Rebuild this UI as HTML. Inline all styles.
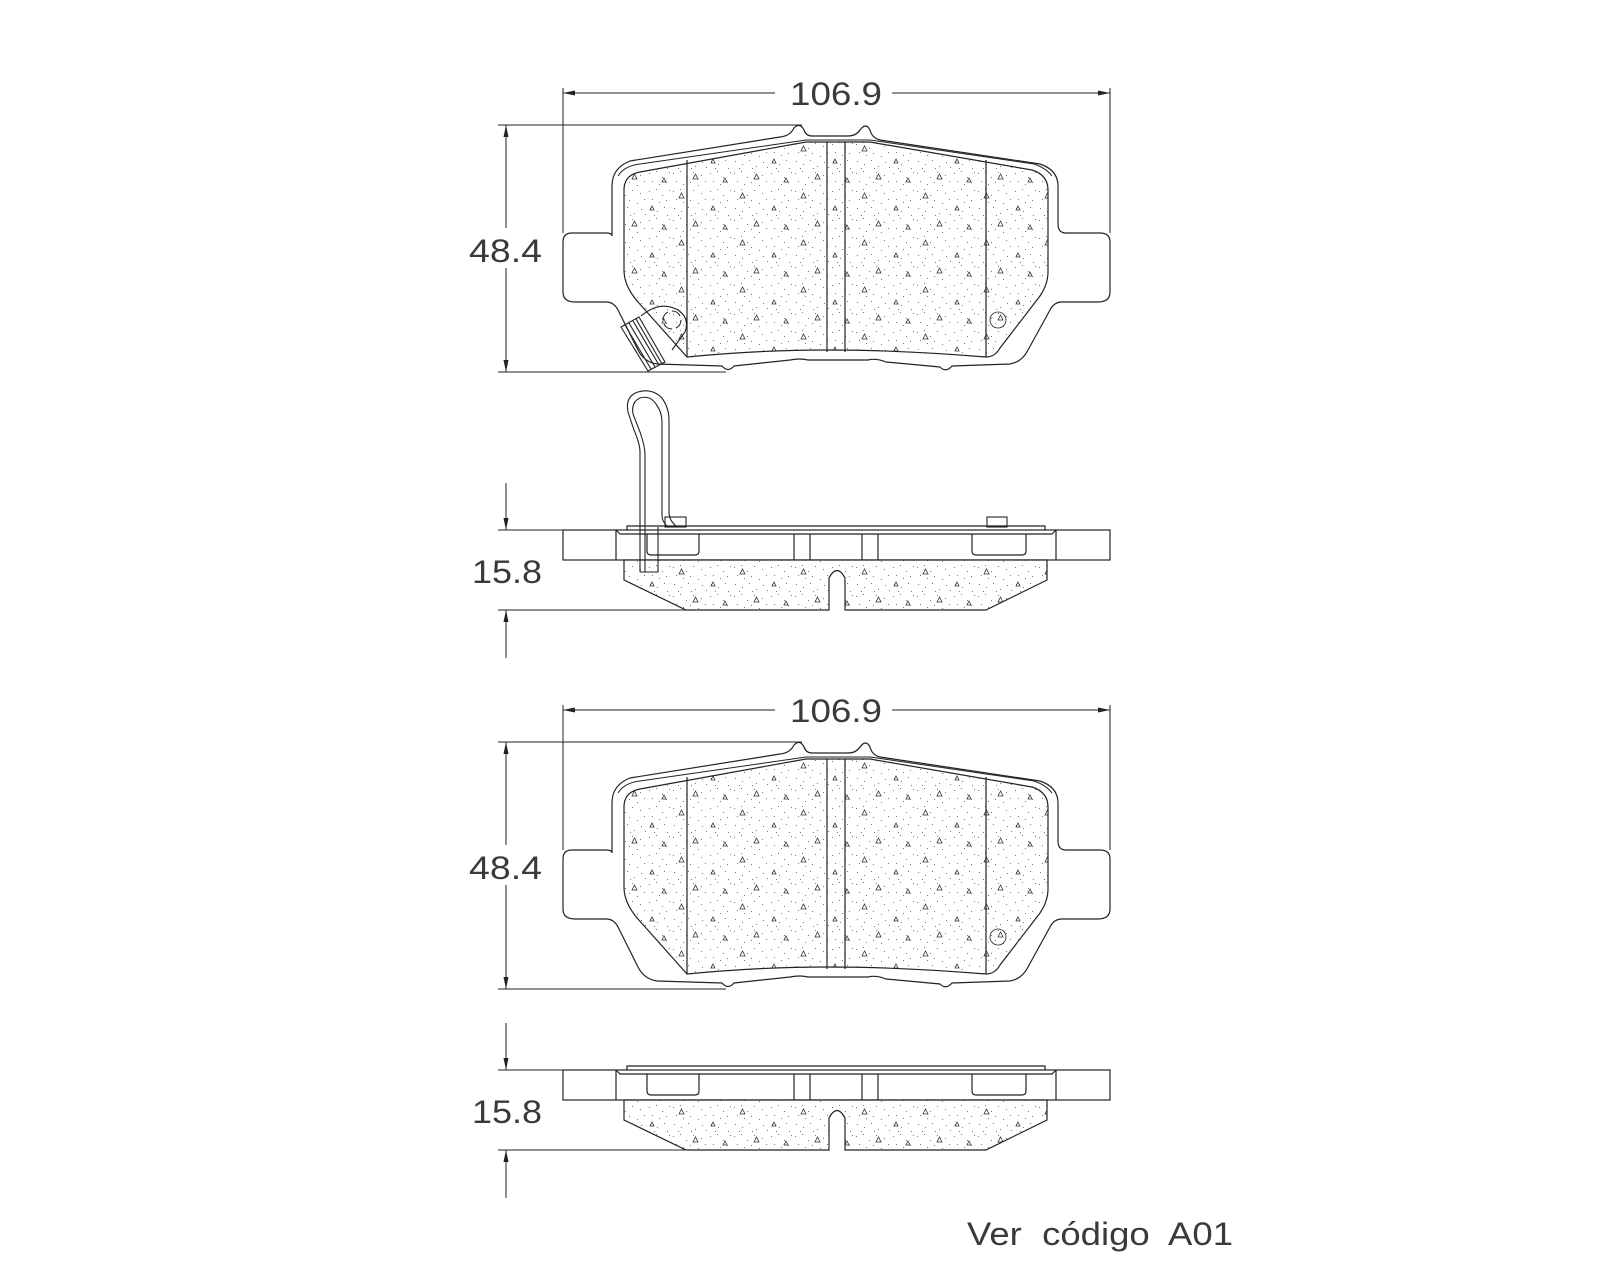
<!DOCTYPE html>
<html><head><meta charset="utf-8"><style>
html,body{margin:0;padding:0;background:#fff;}
svg{display:block}
text{font-family:"Liberation Sans",sans-serif;font-size:32px;fill:#3a3a3a}
</style></head><body>
<svg width="1600" height="1280" viewBox="0 0 1600 1280" xmlns="http://www.w3.org/2000/svg">
<defs>
<pattern id="sp" width="37" height="29" patternUnits="userSpaceOnUse">
<rect width="37" height="29" fill="#fff"/>
<g fill="#777">
<rect x="2" y="3" width="1" height="1"/><rect x="9" y="1" width="1" height="1"/><rect x="15" y="7" width="1" height="1"/>
<rect x="22" y="2" width="1" height="1"/><rect x="30" y="5" width="1" height="1"/><rect x="5" y="11" width="1" height="1"/>
<rect x="12" y="14" width="1" height="1"/><rect x="19" y="12" width="1" height="1"/><rect x="27" y="15" width="1" height="1"/>
<rect x="34" y="11" width="1" height="1"/><rect x="3" y="20" width="1" height="1"/><rect x="10" y="23" width="1" height="1"/>
<rect x="17" y="19" width="1" height="1"/><rect x="24" y="25" width="1" height="1"/><rect x="31" y="21" width="1" height="1"/>
<rect x="7" y="27" width="1" height="1"/><rect x="20" y="27" width="1" height="1"/><rect x="35" y="26" width="1" height="1"/>
</g>
</pattern>
<pattern id="tr" width="61" height="47" patternUnits="userSpaceOnUse">
<rect width="61" height="47" fill="url(#sp)"/>
<g fill="none" stroke="#333" stroke-width="0.8">
<path d="M8 10 l5 0 l-2.5 -5 z"/><path d="M40 22 l4 0 l-2 -4 z"/><path d="M22 38 l5 0 l-2.5 -5 z"/><path d="M52 41 l4 0 l-2 -4 z"/>
</g>
</pattern>
<marker id="a" viewBox="0 0 12 6" refX="12" refY="3" markerWidth="12" markerHeight="6" markerUnits="userSpaceOnUse" orient="auto">
<path d="M0 0.5 L12 3 L0 5.5 z" fill="#222"/>
</marker>
<g id="top" fill="none" stroke="#222" stroke-width="1.2">
<path d="M612,236 Q612,233 606,233 H572 Q563,233 563,242 V292 Q563,302 575,302 H606 Q614,302 618,310 L638,350 Q644,362 657,364 L722,366 Q728,373 734,366 L790,360 Q800,358 808,360 L868,360 Q876,358 886,362 L940,367 Q946,373 952,366 L1010,364 Q1022,362 1028,350 L1050,310 Q1054,302 1062,302 H1098 Q1110,302 1110,292 V242 Q1110,233 1100,233 H1066 Q1058,233 1058,224 V186 Q1058,170 1040,164 L880,140 Q872,138 870,130 Q866,122 860,130 Q856,136 848,136 H812 Q806,136 804,130 Q800,122 794,128 Q790,136 780,137 L630,161 Q612,168 612,186 Z"/>
<path d="M618,176 Q624,166 640,164 L806,140 H870 L1034,164 Q1046,168 1052,176" stroke-width="1"/>
<path d="M624,190 Q624,175 640,172 L806,142 H870 L1032,170 Q1048,175 1048,190 V272 Q1048,284 1040,296 L1000,348 Q995,357 986,357 Q900,350 827,350 Q760,350 687,357 L638,302 Q624,286 624,270 Z" fill="url(#tr)"/>
<path d="M687,160 V357 M827,142 V352 M845,142 V352 M986,160 V357"/>
<circle cx="998" cy="320" r="8" stroke-width="0.8"/>
</g>
<g id="side" fill="none" stroke="#222" stroke-width="1.2">
<rect x="563" y="530" width="547" height="30"/>
<path d="M616,530 V560 M1056,530 V560"/>
<path d="M627,530 V526 H1045 V530"/>
<path d="M616,530 L620,534 H1052 L1056,530"/>
<path d="M647,534 V551 Q647,555 651,555 H695 Q699,555 699,551 V534"/>
<path d="M972,534 V551 Q972,555 976,555 H1022 Q1026,555 1026,551 V534"/>
<path d="M794,534 V560 M810,534 V560 M862,534 V560 M878,534 V560"/>
<path d="M624,560 V580 L686,610 H829 V578 Q837,563 845,578 V610 H986 L1047,580 V560 Z" fill="url(#tr)"/>
</g>
</defs>

<!-- top view 1 -->
<use href="#top"/>
<g fill="none" stroke="#222" stroke-width="1.1">
<path d="M621,327 L639,317 L665,362 L648,371 Z M625,325 L651,369 M629,323 L655,367 M633,321 L659,365 M636,319 L662,364"/>
<path d="M641,316 Q660,300 678,310 Q690,318 685,332 L672,350"/>
<circle cx="672" cy="320" r="9" stroke-dasharray="10 4"/>
</g>
<!-- side view 1 -->
<use href="#side"/>
<g fill="none" stroke="#222" stroke-width="1.1">
<rect x="665" y="517" width="21" height="10"/><rect x="987" y="517" width="20" height="10"/>
<path d="M640,572 V452 Q640,444 634,430 L628,412 Q625,396 638,392 Q652,388 662,398 Q669,408 669,420 V512 Q669,520 676,526"/>
<path d="M645,572 V455 Q645,446 640,432 L633,414 Q631,402 640,398 Q650,395 656,404 Q662,412 662,422 V515 Q662,522 668,527"/>
<path d="M658,527 V572 H640"/>
</g>

<!-- top view 2 -->
<use href="#top" transform="translate(0,617)"/>
<!-- side view 2 -->
<use href="#side" transform="translate(0,540)"/>

<!-- dimensions -->
<g fill="none" stroke="#222" stroke-width="1">
<!-- set 1 -->
<path d="M563,88 V233 M1110,88 V233"/>
<path d="M775,93 H563" marker-end="url(#a)"/><path d="M892,93 H1110" marker-end="url(#a)"/>
<path d="M498,125 H802 M498,372 H726"/>
<path d="M506,228 V125" marker-end="url(#a)"/><path d="M506,268 V372" marker-end="url(#a)"/>
<path d="M498,530 H563 M498,610 H686"/>
<path d="M506,483 V530" marker-end="url(#a)"/><path d="M506,658 V610" marker-end="url(#a)"/>
<!-- set 2 -->
<path d="M563,705 V850 M1110,705 V850"/>
<path d="M775,710 H563" marker-end="url(#a)"/><path d="M892,710 H1110" marker-end="url(#a)"/>
<path d="M498,742 H802 M498,989 H726"/>
<path d="M506,845 V742" marker-end="url(#a)"/><path d="M506,885 V989" marker-end="url(#a)"/>
<path d="M498,1070 H563 M498,1150 H686"/>
<path d="M506,1023 V1070" marker-end="url(#a)"/><path d="M506,1198 V1150" marker-end="url(#a)"/>
</g>
<text x="790" y="105" textLength="92" lengthAdjust="spacingAndGlyphs">106.9</text>
<text x="469" y="262" textLength="73" lengthAdjust="spacingAndGlyphs">48.4</text>
<text x="472" y="583" textLength="70" lengthAdjust="spacingAndGlyphs">15.8</text>
<text x="790" y="722" textLength="92" lengthAdjust="spacingAndGlyphs">106.9</text>
<text x="469" y="879" textLength="73" lengthAdjust="spacingAndGlyphs">48.4</text>
<text x="472" y="1123" textLength="70" lengthAdjust="spacingAndGlyphs">15.8</text>
<text x="967" y="1245" textLength="266" lengthAdjust="spacingAndGlyphs" xml:space="preserve">Ver  código  A01</text>
</svg>
</body></html>
